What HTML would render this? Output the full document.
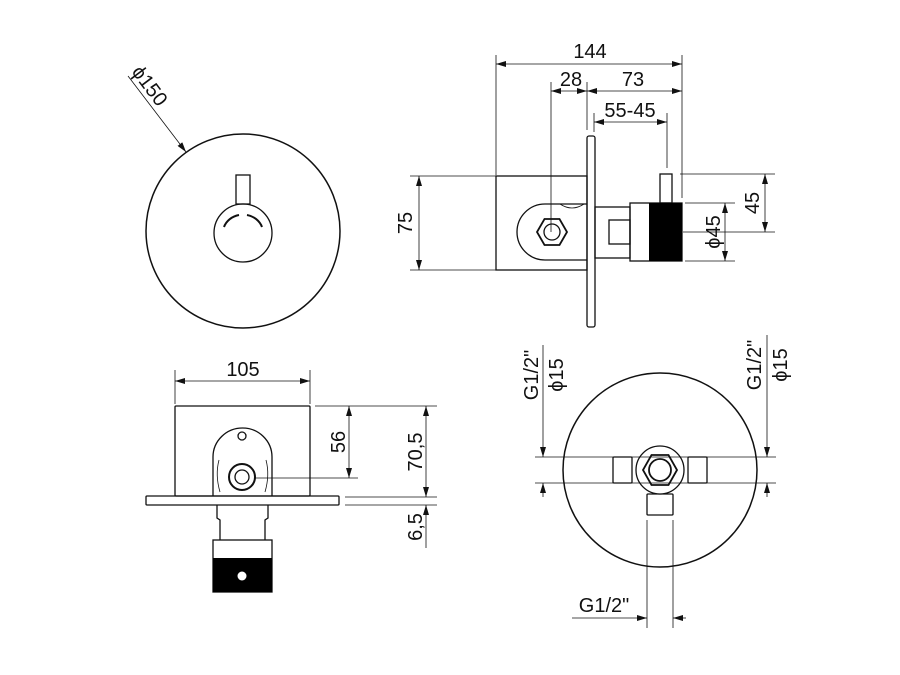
<!DOCTYPE html>
<html><head><meta charset="utf-8"><style>
html,body{margin:0;padding:0;background:#fff}
svg{display:block}
text{font-family:"Liberation Sans",sans-serif;font-size:20px;fill:#111}
</style></head><body>
<svg width="900" height="675" viewBox="0 0 900 675" xmlns="http://www.w3.org/2000/svg">
<defs>
<marker id="a" viewBox="0 0 10 6" refX="10" refY="3" markerWidth="10" markerHeight="6" orient="auto-start-reverse" markerUnits="userSpaceOnUse"><path d="M0,0 L10,3 L0,6 z" fill="#111"/></marker>
</defs>
<g fill="none" stroke="#111" stroke-width="1.3">
<circle cx="243" cy="231" r="97" stroke-width="1.5"/>
<circle cx="243" cy="233" r="29"/>
<rect x="236" y="175" width="14" height="29"/>
<path d="M224,227 A20,18 0 0 1 239,215" stroke-width="2"/>
<path d="M247,215 A20,18 0 0 1 262,227" stroke-width="2"/>
</g>
<g stroke="#111" stroke-width="0.8" fill="none">
<line x1="128" y1="76" x2="186" y2="152" marker-end="url(#a)"/>
</g>
<text transform="translate(131,72) rotate(53)">ϕ150</text>

<g fill="none" stroke="#111" stroke-width="1.3">
<rect x="496" y="176" width="91" height="94"/>
<rect x="587" y="136" width="8" height="191" rx="2"/>
<path d="M587,204 L545,204 A28,28 0 0 0 545,260 L587,260"/>
<path d="M560,204 Q572,212 584,204" stroke-width="0.8"/>
<polygon points="567,232 559.5,245 544.5,245 537,232 544.5,219 559.5,219" stroke-width="1.8"/>
<circle cx="552" cy="232" r="8"/>
<rect x="595" y="207" width="35" height="51"/>
<rect x="609" y="220" width="21" height="24"/>
<rect x="630" y="203" width="52" height="58"/>
<rect x="660" y="174" width="12" height="29"/>
</g>
<rect x="649" y="203" width="33" height="58" fill="#000"/>
<g stroke="#111" stroke-width="0.8" fill="none">
<line x1="496" y1="55" x2="496" y2="175"/>
<line x1="682" y1="55" x2="682" y2="198"/>
<line x1="551" y1="82" x2="551" y2="232"/>
<line x1="587" y1="82" x2="587" y2="130"/>
<line x1="594" y1="113" x2="594" y2="132"/>
<line x1="667" y1="113" x2="667" y2="168"/>
<line x1="496" y1="64" x2="682" y2="64" marker-start="url(#a)" marker-end="url(#a)"/>
<line x1="551" y1="91" x2="587" y2="91" marker-start="url(#a)" marker-end="url(#a)"/>
<line x1="587" y1="91" x2="682" y2="91" marker-start="url(#a)" marker-end="url(#a)"/>
<line x1="594" y1="122" x2="667" y2="122" marker-start="url(#a)" marker-end="url(#a)"/>
<line x1="410" y1="176" x2="496" y2="176"/>
<line x1="410" y1="270" x2="496" y2="270"/>
<line x1="419" y1="176" x2="419" y2="270" marker-start="url(#a)" marker-end="url(#a)"/>
<line x1="680" y1="174" x2="775" y2="174"/>
<line x1="683" y1="232" x2="775" y2="232"/>
<line x1="765" y1="174" x2="765" y2="232" marker-start="url(#a)" marker-end="url(#a)"/>
<line x1="685" y1="203" x2="735" y2="203"/>
<line x1="685" y1="261" x2="735" y2="261"/>
<line x1="725" y1="203" x2="725" y2="261" marker-start="url(#a)" marker-end="url(#a)"/>
</g>
<text x="590" y="58" text-anchor="middle">144</text>
<text x="571" y="86" text-anchor="middle">28</text>
<text x="633" y="86" text-anchor="middle">73</text>
<text x="630" y="117" text-anchor="middle">55-45</text>
<text transform="translate(412,223) rotate(-90)" text-anchor="middle">75</text>
<text transform="translate(759,203) rotate(-90)" text-anchor="middle">45</text>
<text transform="translate(720,232) rotate(-90)" text-anchor="middle">ϕ45</text>

<g fill="none" stroke="#111" stroke-width="1.3">
<rect x="175" y="406" width="135" height="90" rx="1"/>
<rect x="146" y="496" width="193" height="9" rx="1"/>
<path d="M213,496 L213,457 A29.5,29 0 0 1 272,457 L272,496"/>
<path d="M219,460 Q215,475 220,492" stroke-width="0.8"/>
<path d="M266,460 Q270,475 265,492" stroke-width="0.8"/>
<circle cx="242" cy="436" r="4"/>
<circle cx="242" cy="477" r="13" stroke-width="2"/>
<circle cx="242" cy="477" r="7"/>
<path d="M217,505 L217,518 L220,520 L220,540 M268,505 L268,518 L265,520 L265,540"/>
<rect x="213" y="540" width="59" height="52"/>
</g>
<rect x="213" y="558" width="59" height="34" fill="#000"/>
<circle cx="242" cy="576" r="4.5" fill="#fff"/>
<g stroke="#111" stroke-width="0.8" fill="none">
<line x1="175" y1="370" x2="175" y2="404"/>
<line x1="310" y1="370" x2="310" y2="404"/>
<line x1="175" y1="381" x2="310" y2="381" marker-start="url(#a)" marker-end="url(#a)"/>
<line x1="315" y1="406" x2="437" y2="406"/>
<line x1="255" y1="478" x2="358" y2="478"/>
<line x1="349" y1="406" x2="349" y2="478" marker-start="url(#a)" marker-end="url(#a)"/>
<line x1="345" y1="497" x2="437" y2="497"/>
<line x1="345" y1="505" x2="437" y2="505"/>
<line x1="426" y1="406" x2="426" y2="497" marker-start="url(#a)" marker-end="url(#a)"/>
<line x1="426" y1="548" x2="426" y2="505" marker-end="url(#a)"/>
</g>
<text x="243" y="376" text-anchor="middle">105</text>
<text transform="translate(345,442) rotate(-90)" text-anchor="middle">56</text>
<text transform="translate(422,452) rotate(-90)" text-anchor="middle">70,5</text>
<text transform="translate(422,527) rotate(-90)" text-anchor="middle">6,5</text>

<g fill="none" stroke="#111" stroke-width="1.3">
<circle cx="660" cy="470" r="97" stroke-width="1.5"/>
<rect x="613" y="457" width="19" height="26" rx="1"/>
<rect x="688" y="457" width="19" height="26" rx="1"/>
<rect x="647" y="494" width="26" height="21" rx="1"/>
<circle cx="660" cy="470" r="24" fill="#fff"/>
<polygon points="677,470 668.5,485 651.5,485 643,470 651.5,455 668.5,455" stroke-width="1.8"/>
<circle cx="660" cy="470" r="11" stroke-width="1.8"/>
</g>
<g stroke="#111" stroke-width="0.8" fill="none">
<line x1="535" y1="457" x2="776" y2="457"/>
<line x1="535" y1="483" x2="776" y2="483"/>
<line x1="543" y1="345" x2="543" y2="457" marker-end="url(#a)"/>
<line x1="543" y1="497" x2="543" y2="483" marker-end="url(#a)"/>
<line x1="767" y1="335" x2="767" y2="457" marker-end="url(#a)"/>
<line x1="767" y1="497" x2="767" y2="483" marker-end="url(#a)"/>
<line x1="647" y1="520" x2="647" y2="628"/>
<line x1="673" y1="520" x2="673" y2="628"/>
<line x1="572" y1="618" x2="647" y2="618" marker-end="url(#a)"/>
<line x1="686" y1="618" x2="673" y2="618" marker-end="url(#a)"/>
</g>
<text transform="translate(538,375) rotate(-90)" text-anchor="middle">G1/2"</text>
<text transform="translate(563,375) rotate(-90)" text-anchor="middle">ϕ15</text>
<text transform="translate(761,365) rotate(-90)" text-anchor="middle">G1/2"</text>
<text transform="translate(787,365) rotate(-90)" text-anchor="middle">ϕ15</text>
<text x="604" y="612" text-anchor="middle">G1/2"</text>
</svg>
</body></html>
